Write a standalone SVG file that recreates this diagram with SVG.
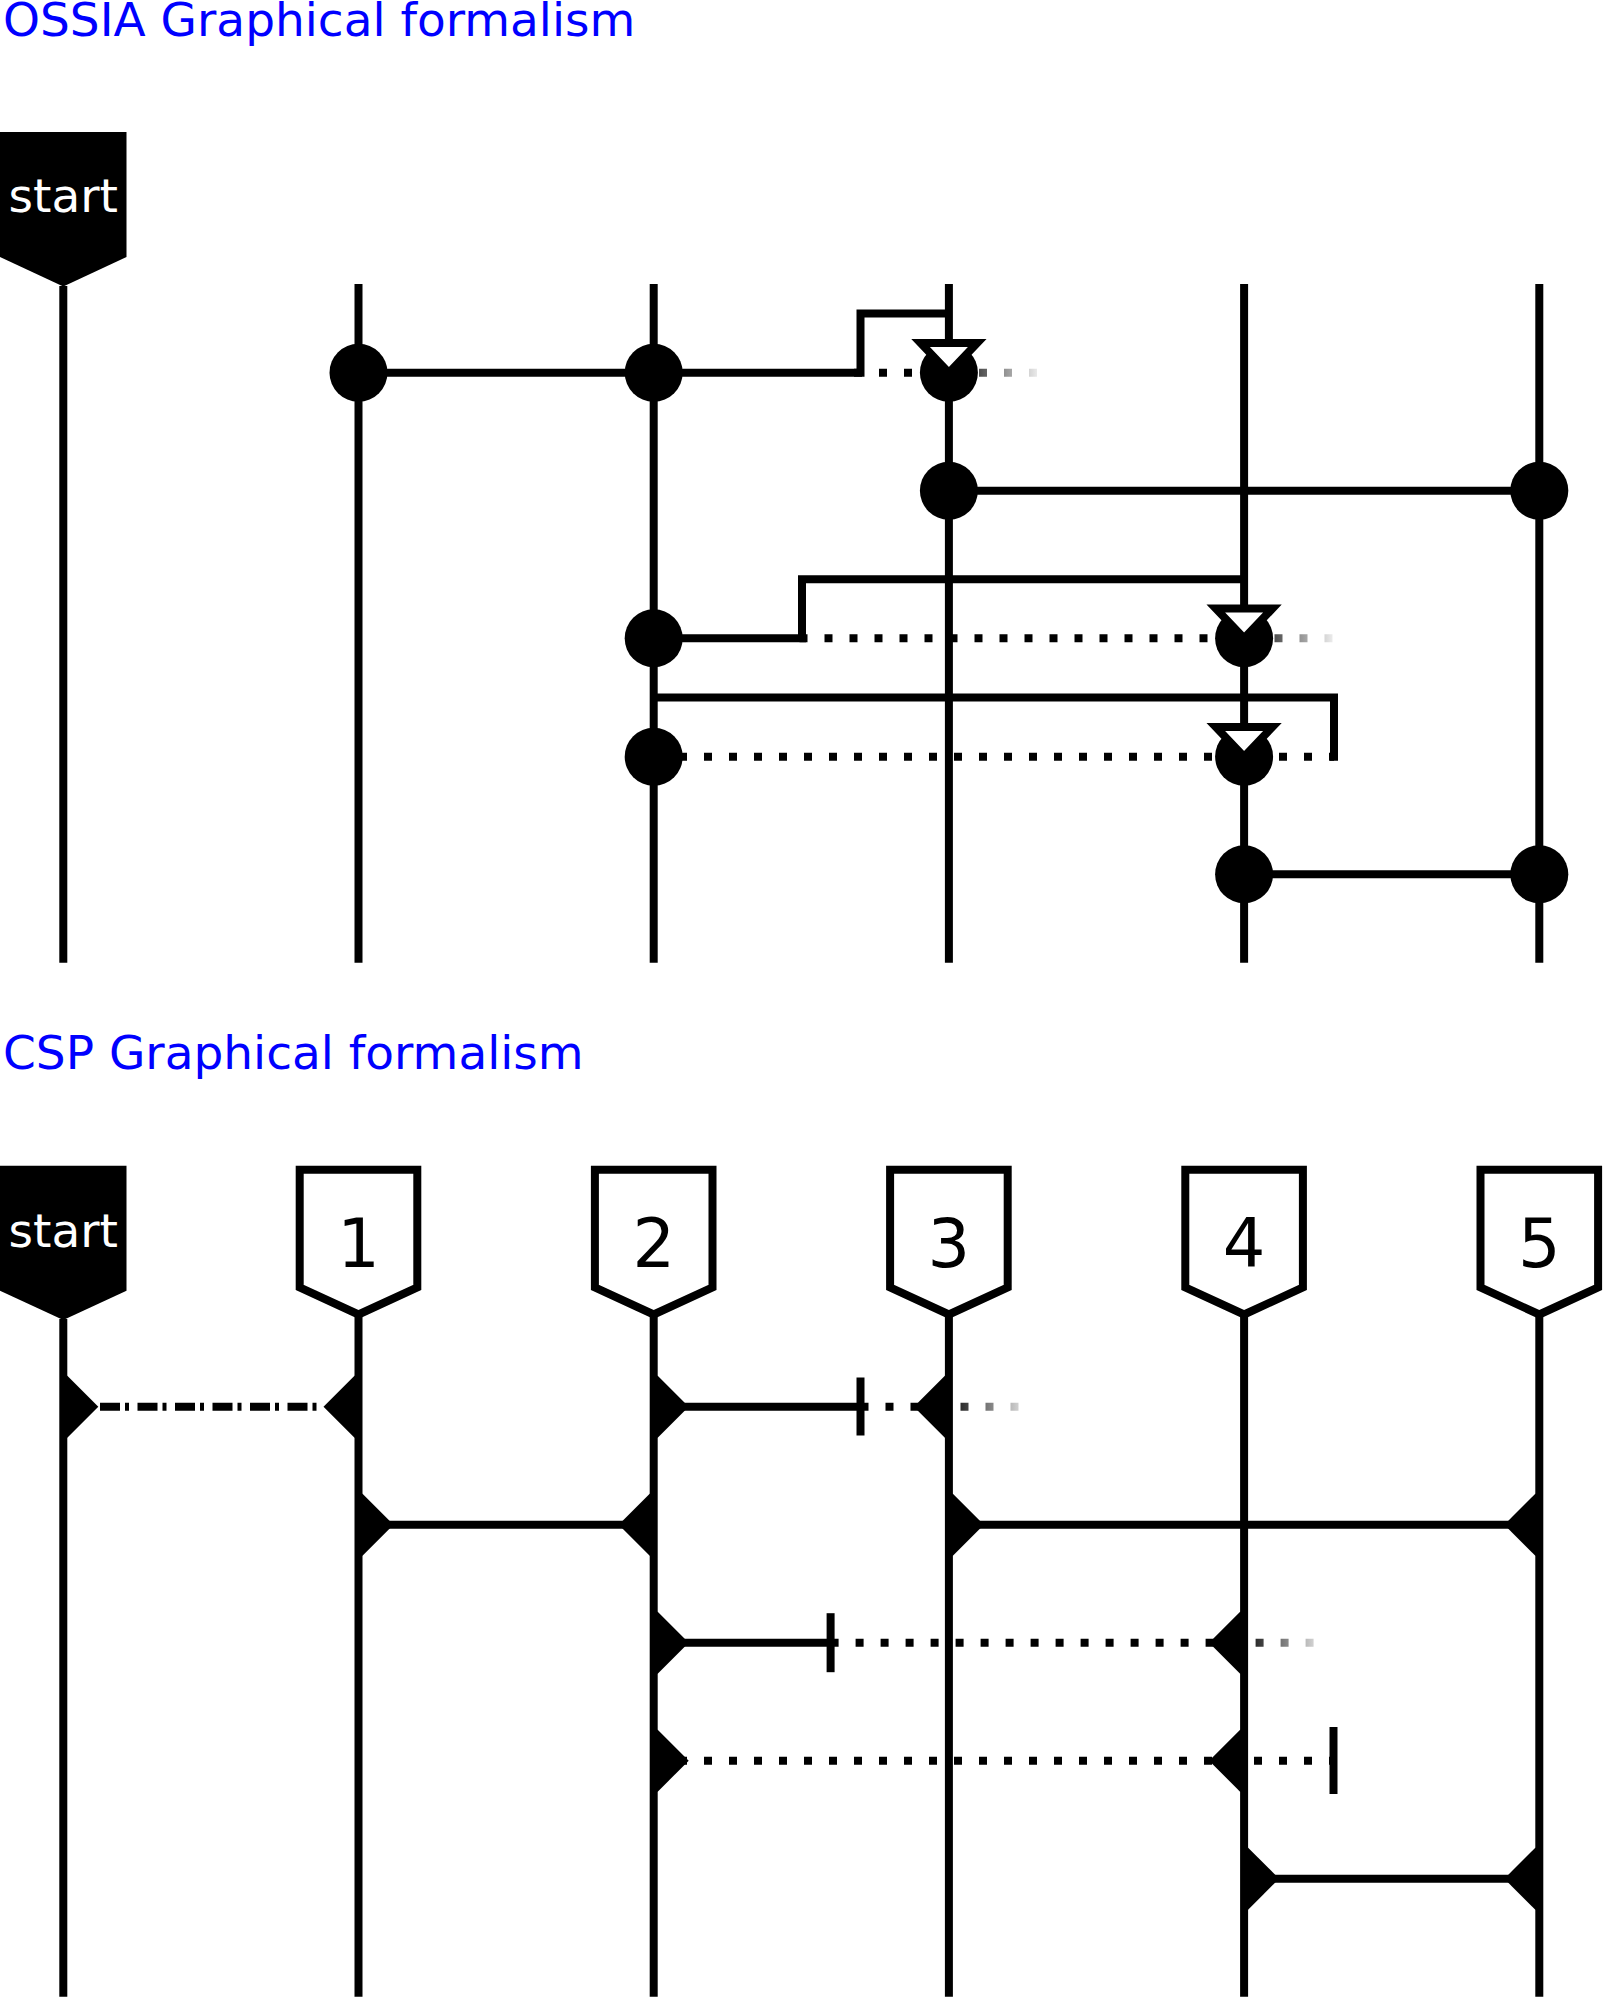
<svg xmlns="http://www.w3.org/2000/svg" xmlns:xlink="http://www.w3.org/1999/xlink" width="1603" height="2001" viewBox="0 0 1603 2001">
<style>
.title{font-family:"DejaVu Sans","Liberation Sans",sans-serif;font-size:47px;fill:#0000ff}
.st{font-family:"DejaVu Sans","Liberation Sans",sans-serif;font-size:47px;fill:#fff;text-anchor:middle}
.num{font-family:"DejaVu Sans","Liberation Sans",sans-serif;font-size:67px;fill:#000;text-anchor:middle}
.ln{fill:none;stroke:#000;stroke-width:8;stroke-linejoin:miter;stroke-linecap:butt}
.dot{stroke-dasharray:8 17}
.dd{stroke-dasharray:20 5 4 8.5}
.fa{stroke:url(#fadeA)}
.fb{stroke:url(#fadeB)}
.fc{stroke:url(#fadeC)}
.fd{stroke:url(#fadeD)}
.ev{fill:#000}
.tri{fill:#fff;stroke:#000;stroke-width:8;stroke-linejoin:miter}
.box{fill:#fff;stroke:#000;stroke-width:8;stroke-linejoin:miter}
.sbox{fill:#000}
.mk{fill:#000}
</style>
<defs>
<linearGradient id="fadeA" gradientUnits="userSpaceOnUse" x1="950" y1="0" x2="1045" y2="0"><stop offset="0" stop-color="#000"/><stop offset="1" stop-color="#fff"/></linearGradient>
<linearGradient id="fadeB" gradientUnits="userSpaceOnUse" x1="1245" y1="0" x2="1340" y2="0"><stop offset="0" stop-color="#000"/><stop offset="1" stop-color="#fff"/></linearGradient>
<linearGradient id="fadeC" gradientUnits="userSpaceOnUse" x1="945" y1="0" x2="1035" y2="0"><stop offset="0" stop-color="#000"/><stop offset="1" stop-color="#fff"/></linearGradient>
<linearGradient id="fadeD" gradientUnits="userSpaceOnUse" x1="1240" y1="0" x2="1330" y2="0"><stop offset="0" stop-color="#000"/><stop offset="1" stop-color="#fff"/></linearGradient>
<path id="tri" d="M-28.3,-29.7 H28.3 L0,0 Z"/>
<path id="nbox" d="M-58.8,0 H58.8 V117.7 L0,144.7 L-58.8,117.7 Z"/>
<path id="mR" d="M0,-31 H4 L35,0 L4,31 H0 Z"/>
<path id="mL" d="M0,-31 H-4 L-35,0 L-4,31 H0 Z"/>
</defs>
<rect width="1603" height="2001" fill="#fff"/>

<!-- ===== OSSIA ===== -->
<g id="ossia-title"><text class="title" x="3" y="36">OSSIA Graphical formalism</text></g>

<g id="ossia-lanes">
<g id="ossia-start"><path class="ln" d="M63.3,286 V962.7"/><path class="sbox" d="M0,132 H126.5 V257 L63.3,286.5 L0,257 Z"/><text class="st" x="63.3" y="212">start</text></g>
<g id="ossia-lane-1"><path class="ln" d="M358.5,284 V962.7"/></g>
<g id="ossia-lane-2"><path class="ln" d="M653.7,284 V962.7"/></g>
<g id="ossia-lane-3"><path class="ln" d="M948.9,284 V962.7"/></g>
<g id="ossia-lane-4"><path class="ln" d="M1244.1,284 V962.7"/></g>
<g id="ossia-lane-5"><path class="ln" d="M1539.3,284 V962.7"/></g>
</g>

<g id="ossia-connectors">
<path class="ln" d="M358.5,372.7 H860.5 V313.5 H948.9"/>
<path class="ln dot fa" d="M854,372.7 H1045"/>
<path class="ln" d="M948.9,490.7 H1539.3"/>
<path class="ln" d="M653.7,638.3 H802 V579.3 H1244.1"/>
<path class="ln dot fb" d="M799.5,638.3 H1340"/>
<path class="ln" d="M653.7,697.5 H1334 V760.7"/>
<path class="ln dot" d="M654,756.7 H1334"/>
<path class="ln" d="M1244.1,874.3 H1539.3"/>
</g>

<g id="ossia-events">
<circle class="ev" cx="358.5" cy="372.7" r="29"/>
<circle class="ev" cx="653.7" cy="372.7" r="29"/>
<circle class="ev" cx="948.9" cy="372.7" r="29"/>
<circle class="ev" cx="948.9" cy="490.7" r="29"/>
<circle class="ev" cx="1539.3" cy="490.7" r="29"/>
<circle class="ev" cx="653.7" cy="638.3" r="29"/>
<circle class="ev" cx="1244.1" cy="638.3" r="29"/>
<circle class="ev" cx="653.7" cy="756.7" r="29"/>
<circle class="ev" cx="1244.1" cy="756.7" r="29"/>
<circle class="ev" cx="1244.1" cy="874.3" r="29"/>
<circle class="ev" cx="1539.3" cy="874.3" r="29"/>
<use class="tri" xlink:href="#tri" x="948.9" y="372.7"/>
<use class="tri" xlink:href="#tri" x="1244.1" y="638.3"/>
<use class="tri" xlink:href="#tri" x="1244.1" y="756.7"/>
</g>

<!-- ===== CSP ===== -->
<g id="csp-title"><text class="title" x="3" y="1069">CSP Graphical formalism</text></g>

<g id="csp-lanes">
<g id="csp-start"><path class="ln" d="M63.3,1319 V1996.7"/><path class="sbox" d="M0,1165.7 H126.5 V1290.7 L63.3,1320 L0,1290.7 Z"/><text class="st" x="63.3" y="1246.5">start</text></g>
<g id="csp-lane-1"><path class="ln" d="M358.5,1314 V1996.7"/><use class="box" xlink:href="#nbox" x="358.5" y="1169.8"/><text class="num" x="358.5" y="1266.5">1</text></g>
<g id="csp-lane-2"><path class="ln" d="M653.7,1314 V1996.7"/><use class="box" xlink:href="#nbox" x="653.7" y="1169.8"/><text class="num" x="653.7" y="1266.5">2</text></g>
<g id="csp-lane-3"><path class="ln" d="M948.9,1314 V1996.7"/><use class="box" xlink:href="#nbox" x="948.9" y="1169.8"/><text class="num" x="948.9" y="1266.5">3</text></g>
<g id="csp-lane-4"><path class="ln" d="M1244.1,1314 V1996.7"/><use class="box" xlink:href="#nbox" x="1244.1" y="1169.8"/><text class="num" x="1244.1" y="1266.5">4</text></g>
<g id="csp-lane-5"><path class="ln" d="M1539.3,1314 V1996.7"/><use class="box" xlink:href="#nbox" x="1539.3" y="1169.8"/><text class="num" x="1539.3" y="1266.5">5</text></g>
</g>

<g id="csp-connectors">
<path class="ln dd" d="M100,1406.7 H323.5"/>
<path class="ln" d="M653.7,1406.7 H860.5"/>
<path class="ln" d="M860.5,1377.5 V1435.5"/>
<path class="ln dot fc" d="M860.5,1406.7 H1035"/>
<path class="ln" d="M358.5,1524.7 H653.7"/>
<path class="ln" d="M948.9,1524.7 H1539.3"/>
<path class="ln" d="M653.7,1642.7 H830.6"/>
<path class="ln" d="M830.6,1613.2 V1672.2"/>
<path class="ln dot fd" d="M830.6,1642.7 H1330"/>
<path class="ln dot" d="M654,1760.7 H1334"/>
<path class="ln" d="M1333.5,1727 V1794"/>
<path class="ln" d="M1244.1,1878.7 H1539.3"/>
</g>

<g id="csp-markers">
<use class="mk" xlink:href="#mR" x="63.3" y="1406.7"/>
<use class="mk" xlink:href="#mL" x="358.5" y="1406.7"/>
<use class="mk" xlink:href="#mR" x="653.7" y="1406.7"/>
<use class="mk" xlink:href="#mL" x="948.9" y="1406.7"/>
<use class="mk" xlink:href="#mR" x="358.5" y="1524.7"/>
<use class="mk" xlink:href="#mL" x="653.7" y="1524.7"/>
<use class="mk" xlink:href="#mR" x="948.9" y="1524.7"/>
<use class="mk" xlink:href="#mL" x="1539.3" y="1524.7"/>
<use class="mk" xlink:href="#mR" x="653.7" y="1642.7"/>
<use class="mk" xlink:href="#mL" x="1244.1" y="1642.7"/>
<use class="mk" xlink:href="#mR" x="653.7" y="1760.7"/>
<use class="mk" xlink:href="#mL" x="1244.1" y="1760.7"/>
<use class="mk" xlink:href="#mR" x="1244.1" y="1878.7"/>
<use class="mk" xlink:href="#mL" x="1539.3" y="1878.7"/>
</g>
</svg>
